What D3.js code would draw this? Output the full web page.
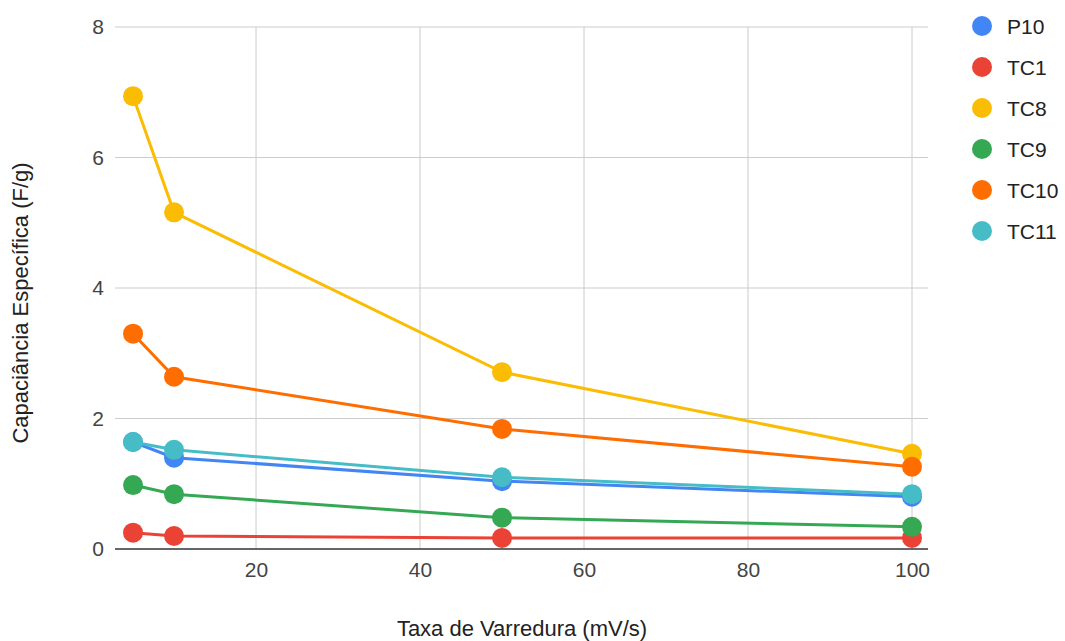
<!DOCTYPE html>
<html><head><meta charset="utf-8">
<script src="https://cdn.jsdelivr.net/npm/d3@7"></script>
<style>body{margin:0;background:#fff;font-family:"Liberation Sans",Arial,sans-serif}</style>
</head><body><svg id="c" width="1065" height="641"></svg>
<script>
const xValues = [5, 10, 50, 100];
const seriesNames = ["P10", "TC1", "TC8", "TC9", "TC10", "TC11"];
const colors = ["#4285f4", "#ea4335", "#fbbc04", "#34a853", "#ff6d01", "#46bdc6"];
const P10 = [1.64, 1.40, 1.04, 0.80];
const TC1 = [0.25, 0.20, 0.17, 0.17];
const TC8 = [6.94, 5.16, 2.71, 1.46];
const TC9 = [0.98, 0.84, 0.48, 0.34];
const TC10 = [3.30, 2.64, 1.84, 1.26];
const TC11 = [1.64, 1.52, 1.10, 0.84];
const seriesValues = [P10, TC1, TC8, TC9, TC10, TC11];
const xTicks = [20, 40, 60, 80, 100];
const yTicks = [0, 2, 4, 6, 8];

(function () {
const FONT = '"Liberation Sans",Arial,sans-serif';
const FS = "21px";
const svg = d3.select("#c");
const pL = 115, pR = 928, pT = 27, pB = 549;
const x = d3.scaleLinear().domain([2.8, 101.95]).range([pL, pR]);
const y = d3.scaleLinear().domain([0, 8]).range([pB, pT]);

// gridlines
svg.append("g").selectAll("line").data(yTicks.filter(d => d !== 0)).join("line")
  .attr("x1", pL).attr("x2", pR).attr("y1", d => y(d)).attr("y2", d => y(d))
  .attr("stroke", "#cccccc").attr("stroke-width", 1);
svg.append("g").selectAll("line").data(xTicks).join("line")
  .attr("x1", d => x(d)).attr("x2", d => x(d)).attr("y1", pT).attr("y2", pB)
  .attr("stroke", "#cccccc").attr("stroke-width", 1);

// axes
const xAxis = d3.axisBottom(x).tickValues(xTicks).tickSize(0).tickPadding(13);
const gx = svg.append("g").attr("transform", `translate(0,${pB})`).call(xAxis);
gx.select(".domain").remove();
gx.selectAll("text").attr("fill", "#444").style("font-size", FS).style("font-family", FONT);
const yAxis = d3.axisLeft(y).tickValues(yTicks).tickSize(0).tickPadding(11);
const gy = svg.append("g").attr("transform", `translate(${pL},0)`).call(yAxis);
gy.select(".domain").remove();
gy.selectAll("text").attr("fill", "#444").style("font-size", FS).style("font-family", FONT);

svg.append("line").attr("x1", pL).attr("x2", pR).attr("y1", y(0)).attr("y2", y(0))
  .attr("stroke", "#333").attr("stroke-width", 1.5);

// series
const line = d3.line().x((d, i) => x(xValues[i])).y(d => y(d));
seriesValues.forEach((vals, s) => {
  const g = svg.append("g");
  g.append("path").datum(vals).attr("d", line).attr("fill", "none")
    .attr("stroke", colors[s]).attr("stroke-width", 3);
  g.selectAll("circle").data(vals).join("circle")
    .attr("cx", (d, i) => x(xValues[i])).attr("cy", d => y(d)).attr("r", 10)
    .attr("fill", colors[s]);
});

// legend
const lg = svg.append("g");
seriesNames.forEach((n, i) => {
  const cy = 26 + i * 41;
  lg.append("circle").attr("cx", 982).attr("cy", cy).attr("r", 10).attr("fill", colors[i]);
  lg.append("text").attr("x", 1007).attr("y", cy).attr("dy", "0.36em")
    .attr("fill", "#222").style("font-size", FS).style("font-family", FONT).text(n);
});

// titles
svg.append("text").attr("x", 522).attr("y", 636).attr("text-anchor", "middle")
  .attr("fill", "#222").style("font-size", "22px").style("font-family", FONT).text("Taxa de Varredura (mV/s)");
svg.append("text").attr("transform", "translate(28,303) rotate(-90)").attr("text-anchor", "middle")
  .attr("fill", "#222").style("font-size", "22px").style("font-family", FONT).text("Capaciância Específica (F/g)");
})();
</script></body></html>
